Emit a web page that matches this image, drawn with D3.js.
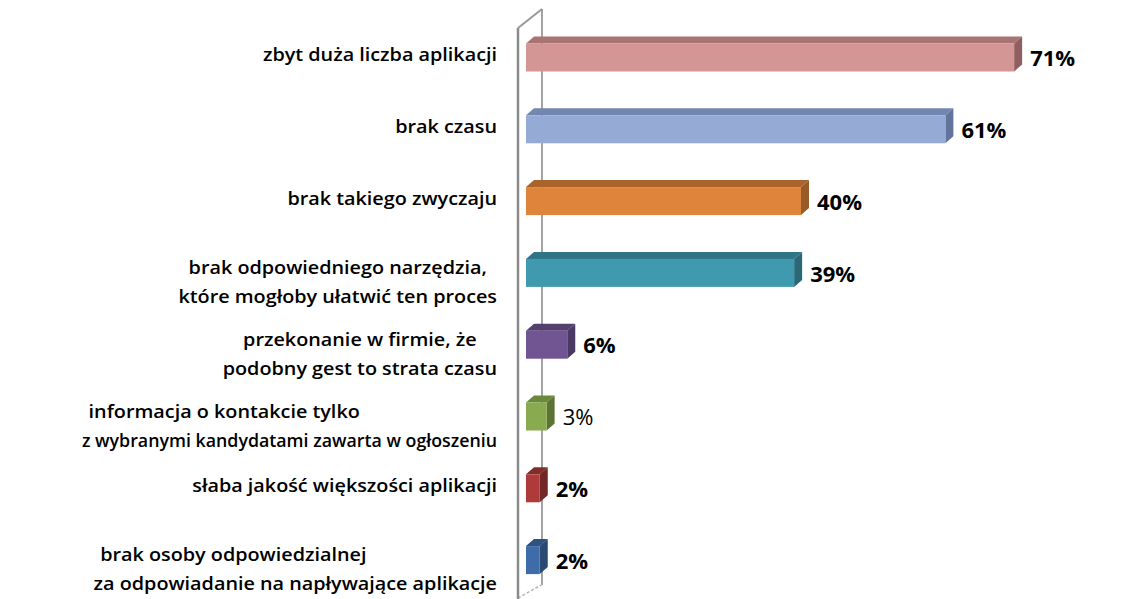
<!DOCTYPE html>
<html>
<head>
<meta charset="utf-8">
<script src="https://cdn.jsdelivr.net/npm/d3@7"></script>
<style>
  body { margin: 0; background: #fff; }
  text { font-family: "Open Sans", Lato, sans-serif; fill: #000; }
</style>
</head>
<body>
<div id="container"></div>
<script>
const WIDTH = 1126;
const HEIGHT = 599;
const LABEL_RIGHT = 497;
const LABEL_STRETCH = 1.1;
const LABEL_MAX = 415;
const DEPTH_X = 8;
const DEPTH_Y = 7;

var CATEGORIES = [
    "zbyt duża liczba aplikacji",
    "brak czasu",
    "brak takiego zwyczaju",
    "brak odpowiedniego narzędzia,\nktóre mogłoby ułatwić ten proces",
    "przekonanie w firmie, że\npodobny gest to strata czasu",
    "informacja o kontakcie tylko\nz wybranymi kandydatami zawarta w ogłoszeniu",
    "słaba jakość większości aplikacji",
    "brak osoby odpowiedzialnej\nza odpowiadanie na napływające aplikacje"
];
var VALUES = [0.71, 0.61, 0.40, 0.39, 0.06, 0.03, 0.02, 0.02];

// how the first line of each label sits inside the label block
var LABEL_ALIGN = ["end", "end", "end", "middle", "middle", "start", "end", "start"];

var FRONT = ["#d49595", "#95aad4", "#de843b", "#3f9aaf", "#705592", "#8aaa4f", "#ae3b39", "#3e6ca8"];
var TOP = ["#a87373", "#7386b0", "#a9632b", "#2f7587", "#54406f", "#6b8a39", "#822c2b", "#2f5281"];
var SIDE = ["#8f5f5f", "#62739c", "#985a27", "#2a6878", "#4a3a63", "#5b7433", "#722625", "#2b4a73"];

var XScale = d3.scaleLinear()
    .domain([0, 0.8])
    .range([526, 1076]);

var YScale = d3.scaleBand()
    .domain(d3.range(CATEGORIES.length))
    .range([21.6, 21.6 + 71.8 * CATEGORIES.length])
    .paddingInner(0.61)
    .paddingOuter(0.305);

var pct = d3.format(".0%");

var svg = d3.select("#container").append("svg")
    .attr("width", WIDTH)
    .attr("height", HEIGHT);

// wall of the 3d axis
var wall = svg.append("g");
wall.append("line")
    .attr("x1", 542).attr("y1", 9).attr("x2", 542).attr("y2", 585)
    .attr("stroke", "#a3a3a3").attr("stroke-width", 2);
wall.append("line")
    .attr("x1", 518).attr("y1", 598).attr("x2", 543).attr("y2", 584)
    .attr("stroke", "#b5b5b5").attr("stroke-width", 1.5)
    .attr("stroke-dasharray", "3,2");

var bars = svg.append("g").selectAll("g")
    .data(VALUES)
    .enter().append("g");

bars.append("path")
    .attr("fill", function (d, i) { return TOP[i]; })
    .attr("d", function (d, i) {
        var x0 = XScale(0), x1 = XScale(d), y0 = YScale(i);
        return "M" + x0 + "," + y0 + "L" + (x0 + DEPTH_X) + "," + (y0 - DEPTH_Y) +
            "L" + (x1 + DEPTH_X) + "," + (y0 - DEPTH_Y) + "L" + x1 + "," + y0 + "Z";
    });

bars.append("path")
    .attr("fill", function (d, i) { return SIDE[i]; })
    .attr("d", function (d, i) {
        var x1 = XScale(d), y0 = YScale(i), y1 = y0 + YScale.bandwidth();
        return "M" + x1 + "," + y0 + "L" + (x1 + DEPTH_X) + "," + (y0 - DEPTH_Y) +
            "L" + (x1 + DEPTH_X) + "," + (y1 - DEPTH_Y) + "L" + x1 + "," + y1 + "Z";
    });

bars.append("rect")
    .attr("x", XScale(0))
    .attr("y", function (d, i) { return YScale(i); })
    .attr("width", function (d) { return XScale(d) - XScale(0); })
    .attr("height", YScale.bandwidth())
    .attr("fill", function (d, i) { return FRONT[i]; });

bars.append("text")
    .attr("x", function (d) { return XScale(d) + DEPTH_X + 8; })
    .attr("y", function (d, i) { return YScale(i) + YScale.bandwidth() / 2 + 1; })
    .attr("dy", "0.35em")
    .attr("font-size", 22)
    .attr("font-weight", function (d, i) { return i === 5 ? "normal" : "bold"; })
    .text(function (d) { return pct(d); });

// front edge of the wall, above the bars
wall = svg.append("g");
wall.append("line")
    .attr("x1", 518).attr("y1", 28).attr("x2", 518).attr("y2", 599)
    .attr("stroke", "#8a8a8a").attr("stroke-width", 2.5);
wall.append("line")
    .attr("x1", 518).attr("y1", 28).attr("x2", 542).attr("y2", 9)
    .attr("stroke", "#999").attr("stroke-width", 2);

// category labels, slightly stretched sideways like the original
var labels = svg.append("g")
    .attr("transform", "translate(" + LABEL_RIGHT + ",0) scale(" + LABEL_STRETCH + ",1) translate(" + (-LABEL_RIGHT) + ",0)")
    .selectAll("g")
    .data(CATEGORIES)
    .enter().append("g");

labels.each(function (label, i) {
    var g = d3.select(this);
    var lines = label.split("\n");
    var center = YScale(i) + YScale.bandwidth() / 2;
    var texts = g.selectAll("text").data(lines).enter().append("text")
        .attr("font-size", 18)
        .attr("font-weight", 600)
        .attr("dy", "0.35em")
        .attr("y", function (d, j) {
            return lines.length === 1 ? center - 2.5 : center - 5 + j * 29;
        })
        .text(function (d) { return d; });
    var maxLen = LABEL_MAX / LABEL_STRETCH;
    texts.each(function () {
        if (this.getComputedTextLength() > maxLen) {
            d3.select(this).attr("textLength", maxLen).attr("lengthAdjust", "spacingAndGlyphs");
        }
    });
    var widest = d3.min([maxLen, d3.max(texts.nodes(), function (n) { return n.getComputedTextLength(); })]);
    var left = LABEL_RIGHT - widest;
    var align = LABEL_ALIGN[i];
    texts.attr("text-anchor", "end")
        .attr("x", LABEL_RIGHT);
    if (lines.length > 1) {
        var first = d3.select(texts.nodes()[0]);
        if (align === "middle") {
            first.attr("text-anchor", "middle").attr("x", left + widest / 2);
        } else if (align === "start") {
            first.attr("text-anchor", "start").attr("x", left + 6);
        }
    }
});
</script>
</body>
</html>
